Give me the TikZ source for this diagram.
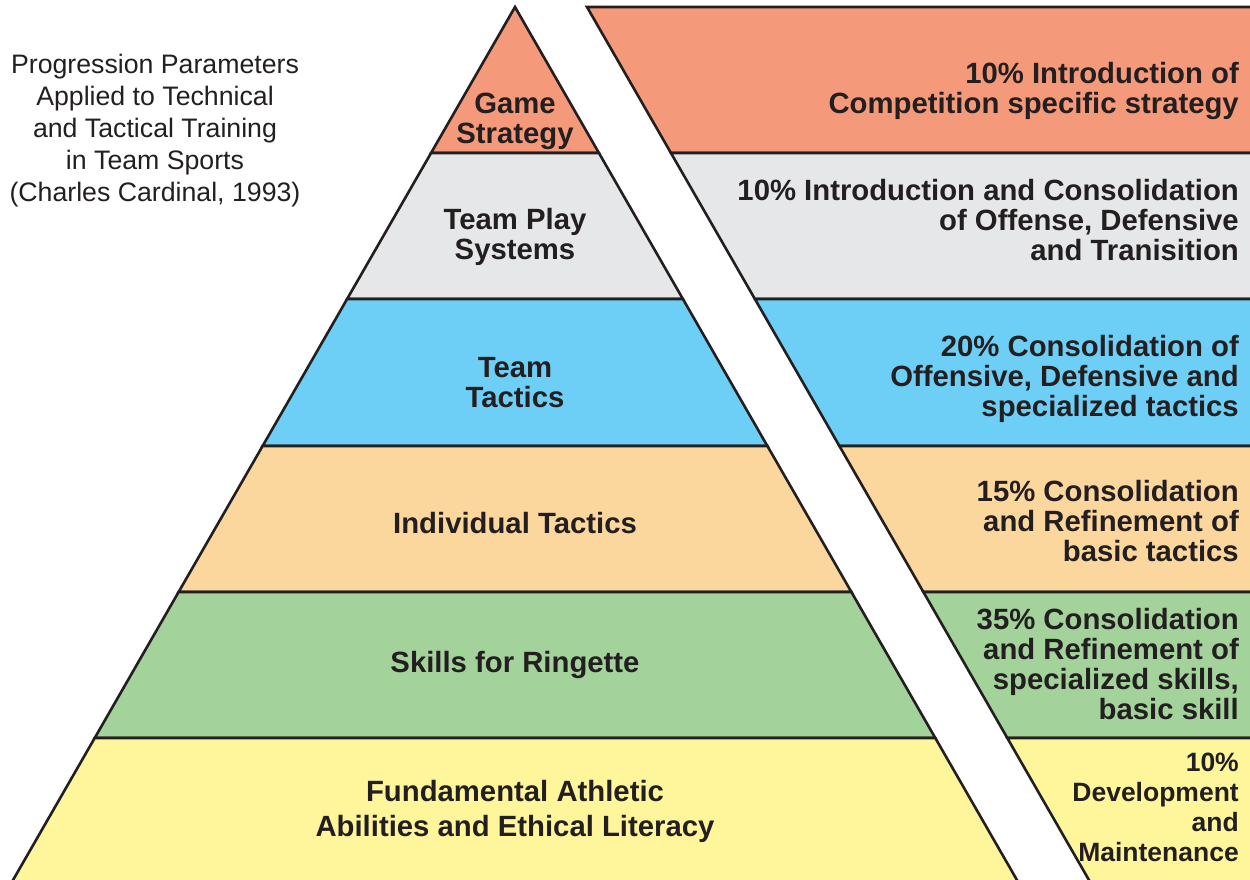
\documentclass[tikz,border=0pt]{standalone}
\usepackage{fontspec}
\setmainfont{Liberation Sans}
\definecolor{cA}{HTML}{F5997B}
\definecolor{cB}{HTML}{E6E7E8}
\definecolor{cC}{HTML}{6DCFF6}
\definecolor{cD}{HTML}{FBD69D}
\definecolor{cE}{HTML}{A3D29B}
\definecolor{cF}{HTML}{FFF59B}
\definecolor{ink}{HTML}{231F20}
\tikzset{
  band/.style={draw=ink, line width=2.6pt, line join=miter},
  lbl/.style={font=\fontsize{29.3}{30}\selectfont\bfseries, text=ink, align=center, inner sep=0pt},
  rlbl/.style={font=\fontsize{29.3}{30}\selectfont\bfseries, text=ink, align=right, inner sep=0pt, anchor=east},
  captext/.style={font=\fontsize{26.7}{32}\selectfont, text=ink, align=center, inner sep=0pt}
}
\begin{document}
\begin{tikzpicture}[x=1pt,y=-1pt]
\useasboundingbox (0,0) rectangle (1250,879);
\clip (0,0) rectangle (1250,879);
% pyramid coordinates
\coordinate (apex) at (515,7);
\coordinate (l1) at (431.05,153); \coordinate (r1) at (598.95,153);
\coordinate (l2) at (347.1,299);  \coordinate (r2) at (682.9,299);
\coordinate (l3) at (262.6,446);  \coordinate (r3) at (767.4,446);
\coordinate (l4) at (178.6,592);  \coordinate (r4) at (851.4,592);
\coordinate (l5) at (94.7,738);   \coordinate (r5) at (935.3,738);
\coordinate (l6) at (7.3,890);    \coordinate (r6) at (1022.7,890);
% panel coordinates
\coordinate (p0) at (587,7);     \coordinate (q0) at (1270,7);
\coordinate (p1) at (670.95,153); \coordinate (q1) at (1270,153);
\coordinate (p2) at (754.9,299);  \coordinate (q2) at (1270,299);
\coordinate (p3) at (839.4,446);  \coordinate (q3) at (1270,446);
\coordinate (p4) at (923.4,592);  \coordinate (q4) at (1270,592);
\coordinate (p5) at (1007.3,738); \coordinate (q5) at (1270,738);
\coordinate (p6) at (1094.7,890); \coordinate (q6) at (1270,890);
% pyramid bands
\filldraw[band, fill=cA] (apex) -- (r1) -- (l1) -- cycle;
\filldraw[band, fill=cB] (l1) -- (r1) -- (r2) -- (l2) -- cycle;
\filldraw[band, fill=cC] (l2) -- (r2) -- (r3) -- (l3) -- cycle;
\filldraw[band, fill=cD] (l3) -- (r3) -- (r4) -- (l4) -- cycle;
\filldraw[band, fill=cE] (l4) -- (r4) -- (r5) -- (l5) -- cycle;
\filldraw[band, fill=cF] (l5) -- (r5) -- (r6) -- (l6) -- cycle;
% panel bands
\filldraw[band, fill=cA] (p0) -- (q0) -- (q1) -- (p1) -- cycle;
\filldraw[band, fill=cB] (p1) -- (q1) -- (q2) -- (p2) -- cycle;
\filldraw[band, fill=cC] (p2) -- (q2) -- (q3) -- (p3) -- cycle;
\filldraw[band, fill=cD] (p3) -- (q3) -- (q4) -- (p4) -- cycle;
\filldraw[band, fill=cE] (p4) -- (q4) -- (q5) -- (p5) -- cycle;
\filldraw[band, fill=cF] (p5) -- (q5) -- (q6) -- (p6) -- cycle;
% pyramid labels
\node[lbl] (t1) at (515,121) {Game\\Strategy};
\node[lbl] (t2) at (515,237) {Team Play\\Systems};
\node[lbl] (t3) at (515,383) {Team\\Tactics};
\node[lbl] (t4) at (515,523) {Individual Tactics};
\node[lbl] (t5) at (515,665) {Skills for Ringette};
\node[lbl, font=\fontsize{29.3}{35}\selectfont\bfseries] (t6) at (515,811) {Fundamental Athletic\\Abilities and Ethical Literacy};
% panel labels
\node[rlbl] (s1) at (1239,91) {10\% Introduction of\\Competition specific strategy};
\node[rlbl] (s2) at (1239,220) {10\% Introduction and Consolidation\\of Offense, Defensive\\and Tranisition};
\node[rlbl] (s3) at (1239,379) {20\% Consolidation of\\Offensive, Defensive and\\specialized tactics};
\node[rlbl] (s4) at (1239,521) {15\% Consolidation\\and Refinement of\\basic tactics};
\node[rlbl] (s5) at (1239,664) {35\% Consolidation\\and Refinement of\\specialized skills,\\basic skill};
\node[rlbl, font=\fontsize{26.5}{30}\selectfont\bfseries] (s6) at (1239,807) {10\%\\Development\\and\\Maintenance};
% caption
\node[captext] (cap) at (155,131) {Progression Parameters\\Applied to Technical\\and Tactical Training\\in Team Sports\\(Charles Cardinal, 1993)};
\end{tikzpicture}
\end{document}
